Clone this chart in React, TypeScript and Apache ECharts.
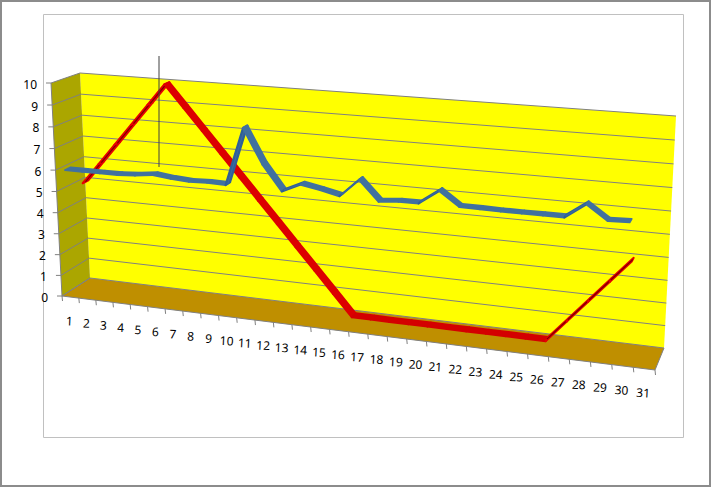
import React, { useEffect, useRef } from "react";
import * as echarts from "echarts";

const categories = ["1","2","3","4","5","6","7","8","9","10","11","12","13","14","15","16","17","18","19","20","21","22","23","24","25","26","27","28","29","30","31"];
const valueTicks = [0,1,2,3,4,5,6,7,8,9,10];
const blueValues = [6.1,6.1,6.1,6.1,6.15,6.25,6.15,6.1,6.13,6.1,8.7,7.16,6.05,6.43,6.27,6.08,6.87,6.0,6.08,6.09,6.7,6.1,6.09,6.07,6.07,6.07,6.07,6.7,6.1,6.13];
const redValues = [5,6,7,8,9,10,9,8,7,6,5,4,3,2,1,0,0,0,0,0,0,0,0,0,0,0,1,2,3,4];

type Pt = [number, number];
type Quad = [Pt, Pt, Pt, Pt]; // bottom-left, bottom-right, top-right, top-left

const W = 711, H = 487;
const FRONT: Quad = [[62,296],[655,370],[668,129],[51,83]];
const BACK: Quad = [[90,278],[664,348],[676,116],[80,73]];
const BLUE_PLANE: Quad = [[66,296],[656,369],[669,128],[55,83]];
const RED_PLANE: Quad = [[83,282],[660,353],[672,122],[71,76]];

function makeProjector(q: Quad) {
  const [[x0,y0],[x1,y1],[x2,y2],[x3,y3]] = q;
  const dx1=x1-x2, dx2=x3-x2, sx=x0-x1+x2-x3;
  const dy1=y1-y2, dy2=y3-y2, sy=y0-y1+y2-y3;
  const den=dx1*dy2-dx2*dy1;
  const g=(sx*dy2-dx2*sy)/den, h=(dx1*sy-sx*dy1)/den;
  const a=x1-x0+g*x1, b=x3-x0+h*x3, c=x0;
  const d=y1-y0+g*y1, e=y3-y0+h*y3, f=y0;
  return (p: number[]): Pt => {
    const s=p[0]/W, t=1-p[1]/H;
    const w=g*s+h*t+1;
    return [(a*s+b*t+c)/w,(d*s+e*t+f)/w];
  };
}
const front = makeProjector(FRONT);
const back = makeProjector(BACK);
const bluePlane = makeProjector(BLUE_PLANE);
const redPlane = makeProjector(RED_PLANE);

const RIBBON = 0.1;
const GRID_COLOR = "#808080";

function ribbonEdge(plane: (p:number[])=>Pt, p: number[]): [Pt,Pt] {
  const c = plane(p), f = front(p), b = back(p);
  const dx = (b[0]-f[0])*RIBBON, dy = (b[1]-f[1])*RIBBON;
  return [[c[0]-dx,c[1]-dy],[c[0]+dx,c[1]+dy]];
}

function ln(a: Pt, b: Pt, stroke = GRID_COLOR, lineWidth = 1) {
  return { type:"line", shape:{x1:a[0],y1:a[1],x2:b[0],y2:b[1]}, style:{stroke,lineWidth} };
}

function ribbonSeries(values: number[], plane:(p:number[])=>Pt, colors:{rise:string,fall:string,flat:string,core:string}, z:number) {
  const data = values.slice(0,-1).map((v,i)=>[i+0.5,v,i+1.5,values[i+1]]);
  return {
    type:"custom", z, silent:true, clip:false, data,
    encode:{x:0,y:1},
    renderItem:(_:any, api:any)=>{
      const a = api.coord([api.value(0),api.value(1)]);
      const b = api.coord([api.value(2),api.value(3)]);
      const [a0,a1]=ribbonEdge(plane,a);
      const [b0,b1]=ribbonEdge(plane,b);
      const pa=plane(a), pb=plane(b);
      const slope=(pb[1]-pa[1])/(pb[0]-pa[0]);
      const rising = slope < -0.3;
      const fill = rising ? colors.rise : slope > 0.3 ? colors.fall : colors.flat;
      const children:any[] = [
        { type:"polygon", shape:{points:[a0,b0,b1,a1]}, style:{fill,stroke:fill,lineWidth:2,lineJoin:"round"} },
      ];
      if (rising) children.push(ln(pa,pb,colors.core,1.2));
      return { type:"group", children };
    },
  };
}

export default function App() {
  const ref = useRef<HTMLDivElement>(null);
  useEffect(()=>{
    const chart = echarts.init(ref.current!, undefined, {renderer:"svg"});
    chart.setOption({
      animation:false,
      backgroundColor:"#ffffff",
      grid:{left:0,right:0,top:0,bottom:0},
      xAxis:{type:"value",min:0,max:31,interval:1,show:false},
      yAxis:{type:"value",min:0,max:10,interval:1,show:false},
      graphic:[
        {type:"rect",shape:{x:1,y:1,width:709,height:485},style:{fill:"none",stroke:"#8C8C8C",lineWidth:2},z:1},
        {type:"rect",shape:{x:43.5,y:14.5,width:640,height:423},style:{fill:"none",stroke:"#C0C0C0",lineWidth:1},z:1},
        {type:"line",shape:{x1:159,y1:56,x2:159,y2:167},style:{stroke:"#404040",lineWidth:1},z:50},
      ],
      series:[
        {
          type:"custom", z:2, silent:true, clip:false, data:[[0,0]], encode:{x:0,y:1},
          renderItem:(_:any, api:any)=>{
            const bl=api.coord([0,0]), br=api.coord([31,0]), tr=api.coord([31,10]), tl=api.coord([0,10]);
            return { type:"group", children:[
              {type:"polygon",shape:{points:[back(bl),back(br),back(tr),back(tl)]},style:{fill:"#FFFF00"}},
              {type:"polygon",shape:{points:[front(tl),back(tl),back(bl),front(bl)]},style:{fill:"#ABA600"}},
              {type:"polygon",shape:{points:[front(bl),back(bl),back(br),front(br)]},style:{fill:"#BF8F00"}},
              ln(front(tl),front(bl)),
              ln(front(bl),front(br)),
              ln(front(br),back(br)),
              ln(front(bl),back(bl)),
              ln(back(bl),back(br)),
            ]};
          },
        },
        {
          type:"custom", z:3, silent:true, clip:false,
          data:valueTicks.map(v=>[0,v]), encode:{x:0,y:1},
          renderItem:(_:any, api:any)=>{
            const v=api.value(1);
            const l=api.coord([0,v]), r=api.coord([31,v]);
            const f=front(l);
            const children:any[]=[
              ln(f,back(l)),
              ln(f,[f[0]-5,f[1]]),
              {type:"text",x:f[0]-14,y:f[1]+1,style:{text:String(v),fontFamily:"'Noto Sans',sans-serif",fontSize:12,fill:"#000",align:"right",verticalAlign:"middle"}},
            ];
            if(v>0) children.push(ln(back(l),back(r)));
            return {type:"group",children};
          },
        },
        {
          type:"custom", z:3, silent:true, clip:false,
          data:categories.map((c,i)=>[i+0.5,0]), encode:{x:0,y:1},
          renderItem:(params:any, api:any)=>{
            const i=params.dataIndex;
            const a=front(api.coord([i,0]));
            const c=front(api.coord([i+0.5,0]));
            const children:any[]=[
              ln(a,[a[0]+0.5,a[1]+5]),
              {type:"text",x:c[0]-1,y:c[1]+24,rotation:-0.05,style:{text:categories[i],fontFamily:"'Noto Sans',sans-serif",fontSize:12,fill:"#000",align:"center",verticalAlign:"middle"}},
            ];
            if(i===categories.length-1){
              const e=front(api.coord([31,0]));
              children.push(ln(e,[e[0]+0.5,e[1]+5]));
            }
            return {type:"group",children};
          },
        },
        ribbonSeries(redValues,redPlane,{rise:"#E80000",fall:"#DC0000",flat:"#D40000",core:"#7A0000"},4),
        ribbonSeries(blueValues,bluePlane,{rise:"#2F5F97",fall:"#41719F",flat:"#41719F",core:"#3A6AA0"},5),
      ],
    });
    return ()=>chart.dispose();
  },[]);
  return <div ref={ref} style={{position:"fixed",left:0,top:0,width:W,height:H}} />;
}
